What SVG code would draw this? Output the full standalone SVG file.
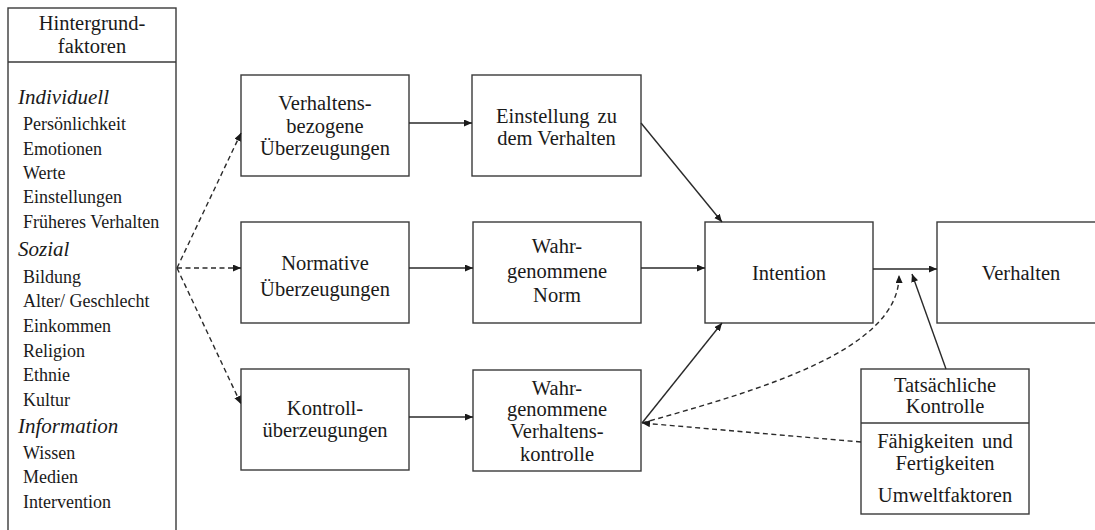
<svg xmlns="http://www.w3.org/2000/svg" width="1095" height="530" viewBox="0 0 1095 530">
<style>
text{font-family:"Liberation Serif",serif;fill:#1a1a1a}
.box{fill:#fff;stroke:#3a3a3a;stroke-width:1.4}
.t{font-size:20.5px;text-anchor:middle}
.li{font-size:18px}
.hd{font-size:21px;font-style:italic}
.c{fill:none;stroke:#2a2a2a;stroke-width:1.4;marker-end:url(#ah)}
.d{stroke-dasharray:5 3.5}
</style>
<defs>
<marker id="ah" markerUnits="userSpaceOnUse" markerWidth="10" markerHeight="8" refX="8" refY="3.5" orient="auto">
<path d="M0,0 L8,3.5 L0,7 z" fill="#1a1a1a"/>
</marker>
</defs>
<rect width="1095" height="530" fill="#fff"/>
<g id="hintergrund">
<rect class="box" x="8" y="8" width="168" height="530"/>
<line x1="8" y1="62" x2="176" y2="62" stroke="#3a3a3a" stroke-width="1.4"/>
<text class="t" x="92" y="30">Hintergrund-</text>
<text class="t" x="92" y="53">faktoren</text>
<text class="hd" x="18" y="104">Individuell</text>
<text class="li" x="23" y="130">Persönlichkeit</text>
<text class="li" x="23" y="155">Emotionen</text>
<text class="li" x="23" y="179">Werte</text>
<text class="li" x="23" y="203">Einstellungen</text>
<text class="li" x="23" y="228">Früheres Verhalten</text>
<text class="hd" x="18" y="256">Sozial</text>
<text class="li" x="23" y="283">Bildung</text>
<text class="li" x="23" y="307">Alter/ Geschlecht</text>
<text class="li" x="23" y="332">Einkommen</text>
<text class="li" x="23" y="357">Religion</text>
<text class="li" x="23" y="381">Ethnie</text>
<text class="li" x="23" y="406">Kultur</text>
<text class="hd" x="18" y="433">Information</text>
<text class="li" x="23" y="459">Wissen</text>
<text class="li" x="23" y="483">Medien</text>
<text class="li" x="23" y="508">Intervention</text>
</g>

<g id="verhaltensbezogene">
<rect class="box" x="241" y="75" width="168" height="101"/>
<text class="t" x="325" y="110">Verhaltens-</text>
<text class="t" x="325" y="132.5">bezogene</text>
<text class="t" x="325" y="155">Überzeugungen</text>
</g>
<g id="einstellung">
<rect class="box" x="472" y="75" width="169" height="101"/>
<text class="t" x="556.5" y="122.5" word-spacing="3">Einstellung zu</text>
<text class="t" x="556.5" y="144.5">dem Verhalten</text>
</g>
<g id="normative">
<rect class="box" x="241" y="222" width="168" height="101"/>
<text class="t" x="325" y="270">Normative</text>
<text class="t" x="325" y="296">Überzeugungen</text>
</g>
<g id="norm">
<rect class="box" x="473" y="222" width="168" height="101"/>
<text class="t" x="557" y="253">Wahr-</text>
<text class="t" x="557" y="278">genommene</text>
<text class="t" x="557" y="302">Norm</text>
</g>
<g id="kontrollueberzeugungen">
<rect class="box" x="241" y="369" width="168" height="101"/>
<text class="t" x="325" y="415">Kontroll-</text>
<text class="t" x="325" y="437">überzeugungen</text>
</g>
<g id="verhaltenskontrolle">
<rect class="box" x="473" y="370" width="168" height="101"/>
<text class="t" x="557" y="395">Wahr-</text>
<text class="t" x="557" y="416">genommene</text>
<text class="t" x="557" y="438">Verhaltens-</text>
<text class="t" x="557" y="461">kontrolle</text>
</g>
<g id="intention">
<rect class="box" x="705" y="222" width="168" height="101"/>
<text class="t" x="789" y="280">Intention</text>
</g>
<g id="verhalten">
<rect class="box" x="937" y="222" width="170" height="101"/>
<text class="t" x="1021" y="280">Verhalten</text>
</g>
<g id="tatsaechliche">
<rect class="box" x="861" y="369" width="168" height="145"/>
<line x1="861" y1="423" x2="1029" y2="423" stroke="#3a3a3a" stroke-width="1.4"/>
<text class="t" x="945" y="392">Tatsächliche</text>
<text class="t" x="945" y="413">Kontrolle</text>
<text class="t" x="945" y="448" word-spacing="3">Fähigkeiten und</text>
<text class="t" x="945" y="470">Fertigkeiten</text>
<text class="t" x="945" y="502">Umweltfaktoren</text>
</g>
<g id="connectors">
<path class="c d" d="M177,268 L241,133"/>
<path class="c d" d="M177,268 L241,268"/>
<path class="c d" d="M177,268 L241,404"/>
<path class="c" d="M409,123 L472,123"/>
<path class="c" d="M409,268 L473,268"/>
<path class="c" d="M409,417 L473,417"/>
<path class="c" d="M641,123 L722,222"/>
<path class="c" d="M641,268 L705,268"/>
<path class="c" d="M642,423 L722,323"/>
<path class="c" d="M873,269 L937,269"/>
<path class="c" d="M946,369 L912,274"/>
<path class="c d" d="M642,423 C760,390 900,350 899,275"/>
<path class="c d" d="M861,442 L642,423"/>
</g>
</svg>
